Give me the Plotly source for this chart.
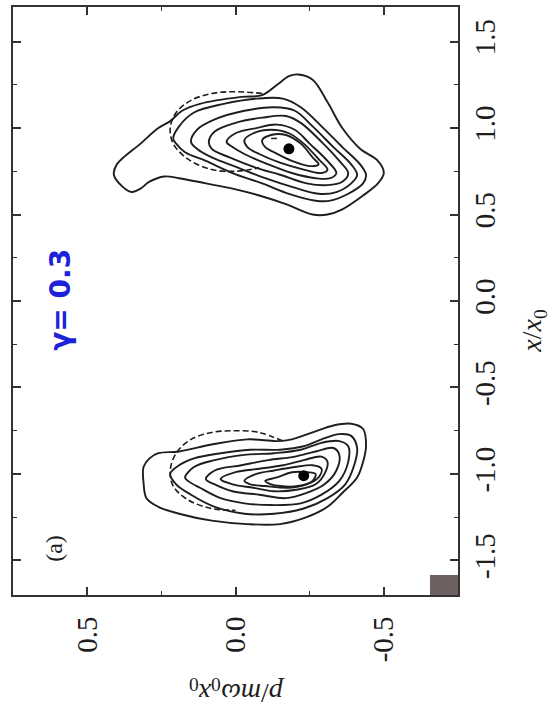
import plotly.graph_objects as go

# Phase-space contours (p/m w0 x0, x/x0) for the two wave packets, outermost first.
UPPER_RING_1 = [(0.41, 0.73), (0.40, 0.79), (0.32, 0.91), (0.26, 1.00), (0.22, 1.04), (0.18, 1.10),
                (0.12, 1.14), (-0.02, 1.18), (-0.09, 1.19), (-0.14, 1.25), (-0.18, 1.30), (-0.21, 1.31),
                (-0.26, 1.28), (-0.31, 1.15), (-0.36, 1.00), (-0.42, 0.88), (-0.48, 0.81), (-0.50, 0.74),
                (-0.48, 0.68), (-0.43, 0.61), (-0.36, 0.53), (-0.31, 0.50), (-0.26, 0.50), (-0.17, 0.56),
                (-0.08, 0.61), (0.01, 0.65), (0.10, 0.68), (0.19, 0.71), (0.24, 0.72), (0.29, 0.69),
                (0.32, 0.65), (0.35, 0.63), (0.38, 0.66)]
UPPER_RING_2 = [(0.21, 0.94), (0.19, 1.01), (0.14, 1.09), (0.04, 1.14), (-0.07, 1.17), (-0.16, 1.17),
                (-0.22, 1.12), (-0.29, 1.01), (-0.36, 0.89), (-0.42, 0.79), (-0.44, 0.73), (-0.43, 0.68),
                (-0.38, 0.62), (-0.32, 0.58), (-0.27, 0.58), (-0.18, 0.62), (-0.09, 0.68), (0.01, 0.74),
                (0.10, 0.81), (0.17, 0.86), (0.20, 0.91)]
UPPER_RING_3 = [(0.15, 0.92), (0.13, 0.99), (0.07, 1.05), (-0.03, 1.10), (-0.13, 1.12), (-0.20, 1.10),
                (-0.26, 1.01), (-0.33, 0.89), (-0.39, 0.79), (-0.41, 0.73), (-0.39, 0.68), (-0.34, 0.63),
                (-0.28, 0.62), (-0.19, 0.66), (-0.10, 0.71), (-0.01, 0.77), (0.08, 0.83), (0.13, 0.88)]
UPPER_RING_4 = [(0.09, 0.92), (0.07, 0.98), (0.00, 1.03), (-0.09, 1.06), (-0.17, 1.07), (-0.22, 1.03),
                (-0.29, 0.92), (-0.35, 0.81), (-0.38, 0.74), (-0.36, 0.69), (-0.31, 0.67), (-0.24, 0.68),
                (-0.15, 0.73), (-0.07, 0.77), (0.02, 0.83), (0.08, 0.88)]
UPPER_RING_5 = [(0.03, 0.92), (0.00, 0.97), (-0.07, 1.00), (-0.14, 1.02), (-0.20, 0.99), (-0.25, 0.91),
                (-0.31, 0.81), (-0.34, 0.74), (-0.32, 0.71), (-0.27, 0.71), (-0.19, 0.74), (-0.11, 0.79),
                (-0.03, 0.85), (0.01, 0.89)]
UPPER_RING_6 = [(-0.03, 0.93), (-0.06, 0.97), (-0.12, 0.99), (-0.18, 0.97), (-0.23, 0.91), (-0.28, 0.82),
                (-0.31, 0.76), (-0.29, 0.74), (-0.23, 0.76), (-0.15, 0.80), (-0.08, 0.85), (-0.04, 0.89)]
UPPER_RING_7 = [(-0.09, 0.93), (-0.12, 0.96), (-0.17, 0.96), (-0.22, 0.91), (-0.26, 0.83), (-0.28, 0.79),
                (-0.25, 0.78), (-0.19, 0.81), (-0.13, 0.86), (-0.10, 0.89)]

LOWER_RING_1 = [(0.31, -0.96), (0.29, -0.91), (0.26, -0.88), (0.19, -0.87), (0.08, -0.83), (-0.04, -0.80),
                (-0.14, -0.81), (-0.19, -0.80), (-0.26, -0.76), (-0.33, -0.72), (-0.39, -0.71), (-0.43, -0.74),
                (-0.44, -0.84), (-0.43, -0.93), (-0.41, -1.02), (-0.36, -1.11), (-0.31, -1.19), (-0.24, -1.25),
                (-0.15, -1.29), (-0.04, -1.29), (0.08, -1.27), (0.19, -1.23), (0.26, -1.19), (0.30, -1.14),
                (0.31, -1.05)]
LOWER_RING_2 = [(0.22, -1.00), (0.19, -0.95), (0.14, -0.91), (0.05, -0.88), (-0.05, -0.86), (-0.15, -0.86),
                (-0.23, -0.84), (-0.29, -0.80), (-0.35, -0.77), (-0.39, -0.78), (-0.41, -0.85), (-0.40, -0.95),
                (-0.37, -1.06), (-0.31, -1.14), (-0.23, -1.20), (-0.13, -1.23), (-0.03, -1.23), (0.07, -1.19),
                (0.15, -1.12), (0.20, -1.06)]
LOWER_RING_3 = [(0.17, -1.02), (0.14, -0.96), (0.07, -0.92), (-0.03, -0.89), (-0.13, -0.88), (-0.22, -0.86),
                (-0.29, -0.82), (-0.35, -0.81), (-0.38, -0.84), (-0.38, -0.93), (-0.35, -1.04), (-0.29, -1.12),
                (-0.22, -1.17), (-0.12, -1.18), (-0.03, -1.17), (0.05, -1.14), (0.12, -1.08), (0.16, -1.04)]
LOWER_RING_4 = [(0.10, -1.03), (0.07, -0.98), (-0.02, -0.95), (-0.11, -0.92), (-0.20, -0.90), (-0.27, -0.87),
                (-0.33, -0.85), (-0.35, -0.89), (-0.34, -0.98), (-0.30, -1.06), (-0.24, -1.11), (-0.17, -1.14),
                (-0.08, -1.12), (0.01, -1.10), (0.07, -1.06)]
LOWER_RING_5 = [(0.05, -1.03), (0.00, -0.99), (-0.08, -0.97), (-0.16, -0.95), (-0.23, -0.92), (-0.29, -0.90),
                (-0.31, -0.93), (-0.30, -1.00), (-0.27, -1.06), (-0.21, -1.09), (-0.13, -1.10), (-0.06, -1.08),
                (0.01, -1.06)]
LOWER_RING_6 = [(-0.03, -1.04), (-0.07, -1.00), (-0.13, -0.98), (-0.20, -0.96), (-0.26, -0.95), (-0.29, -0.97),
                (-0.28, -1.02), (-0.24, -1.06), (-0.18, -1.08), (-0.10, -1.07), (-0.05, -1.06)]
LOWER_RING_7 = [(-0.10, -1.04), (-0.14, -1.02), (-0.19, -0.99), (-0.24, -0.99), (-0.27, -1.00), (-0.26, -1.04),
                (-0.21, -1.07), (-0.15, -1.07), (-0.12, -1.06)]

# Visible arcs of the initial coherent-state circles (dashed)
UPPER_INITIAL = [(-0.09, 1.20), (0.00, 1.21), (0.08, 1.20), (0.15, 1.16), (0.20, 1.09), (0.22, 1.00),
                 (0.21, 0.91), (0.16, 0.82), (0.08, 0.76), (0.00, 0.75), (-0.08, 0.77)]
LOWER_INITIAL = [(-0.16, -0.81), (-0.08, -0.76), (0.00, -0.75), (0.08, -0.76), (0.15, -0.80), (0.20, -0.88),
                 (0.22, -0.98), (0.21, -1.07), (0.16, -1.15), (0.08, -1.20), (0.00, -1.21)]

# Packet centres (filled dots) and the short marker near the upper centre
CENTRE_P = [-0.18, -0.23]
CENTRE_X = [0.88, -1.01]
MARK_P = [-0.12, -0.14]
MARK_X = [0.94, 0.94]

P_TICKS = [0.5, 0.0, -0.5]
P_TICK_TEXT = ["0.5", "0.0", "-0.5"]
X_TICKS = [-1.5, -1.0, -0.5, 0.0, 0.5, 1.0, 1.5]
X_TICK_TEXT = ["-1.5", "-1.0", "-0.5", "0.0", "0.5", "1.0", "1.5"]

INK = "#1e1e1e"
SERIF = "Liberation Serif"

fig = go.Figure()

rings = [UPPER_RING_1, UPPER_RING_2, UPPER_RING_3, UPPER_RING_4, UPPER_RING_5, UPPER_RING_6, UPPER_RING_7,
         LOWER_RING_1, LOWER_RING_2, LOWER_RING_3, LOWER_RING_4, LOWER_RING_5, LOWER_RING_6, LOWER_RING_7]
for ring in rings:
    closed = ring + ring[:1]
    fig.add_trace(go.Scatter(
        x=[pt[0] for pt in closed], y=[pt[1] for pt in closed],
        mode="lines",
        line=dict(color=INK, width=1.9, shape="spline", smoothing=1.0),
        hoverinfo="skip", showlegend=False))

for arc in [UPPER_INITIAL, LOWER_INITIAL]:
    fig.add_trace(go.Scatter(
        x=[pt[0] for pt in arc], y=[pt[1] for pt in arc],
        mode="lines",
        line=dict(color=INK, width=1.6, dash="6px,3px", shape="spline", smoothing=1.0),
        hoverinfo="skip", showlegend=False))

fig.add_trace(go.Scatter(x=MARK_P, y=MARK_X, mode="lines",
                         line=dict(color=INK, width=1.5), hoverinfo="skip", showlegend=False))
fig.add_trace(go.Scatter(x=CENTRE_P, y=CENTRE_X, mode="markers",
                         marker=dict(color="black", size=11), hoverinfo="skip", showlegend=False))

axis_common = dict(
    ticks="inside", ticklen=8, tickwidth=1.5, tickcolor="#333",
    showline=True, linecolor="#333", linewidth=1.6, mirror="allticks",
    showgrid=False, zeroline=False,
    tickfont=dict(family=SERIF, size=29, color=INK),
    minor=dict(dtick=0.25, tick0=0, ticks="inside", ticklen=4, tickwidth=1.2, tickcolor="#333"),
)

fig.update_xaxes(range=[0.75, -0.75], tickmode="array", tickvals=P_TICKS, ticktext=P_TICK_TEXT,
                 tickangle=-90, ticklabelstandoff=8, **axis_common)
fig.update_yaxes(range=[-1.7, 1.7], side="right", tickmode="array", tickvals=X_TICKS, ticktext=X_TICK_TEXT,
                 tickangle=-90, ticklabelstandoff=0, **axis_common)

fig.add_annotation(text="<i>x</i>/<i>x</i><sub>0</sub>", xref="paper", yref="paper",
                   x=1.17, y=0.449, xanchor="center", yanchor="middle", showarrow=False, textangle=-90,
                   font=dict(family=SERIF, size=28, color=INK))
fig.add_annotation(text="<i>p</i>/<i>m</i><i>ω</i><sub>0</sub><i>x</i><sub>0</sub>", xref="paper", yref="paper",
                   x=0.503, y=-0.163, xanchor="center", yanchor="middle", showarrow=False, textangle=180,
                   font=dict(family=SERIF, size=28, color=INK))
fig.add_annotation(text="(a)", x=0.61, y=-1.43, xanchor="center", yanchor="middle",
                   showarrow=False, textangle=-90,
                   font=dict(family=SERIF, size=24, color=INK))
fig.add_annotation(text="<b>γ= 0.3</b>", x=0.59, y=0.01, xanchor="center", yanchor="middle",
                   showarrow=False, textangle=-90,
                   font=dict(family="DejaVu Sans", size=28, color="#1c22d8"))

# small shaded block in the lower-right corner of the frame
fig.add_shape(type="rect", xref="paper", yref="paper", x0=0.937, x1=1.0, y0=0.0, y1=0.034,
              fillcolor="#6e5f60", line=dict(width=0))

fig.update_layout(
    width=554, height=708,
    margin=dict(l=13, r=96, t=5, b=113),
    plot_bgcolor="white", paper_bgcolor="white",
)

fig.write_html("out.html")
